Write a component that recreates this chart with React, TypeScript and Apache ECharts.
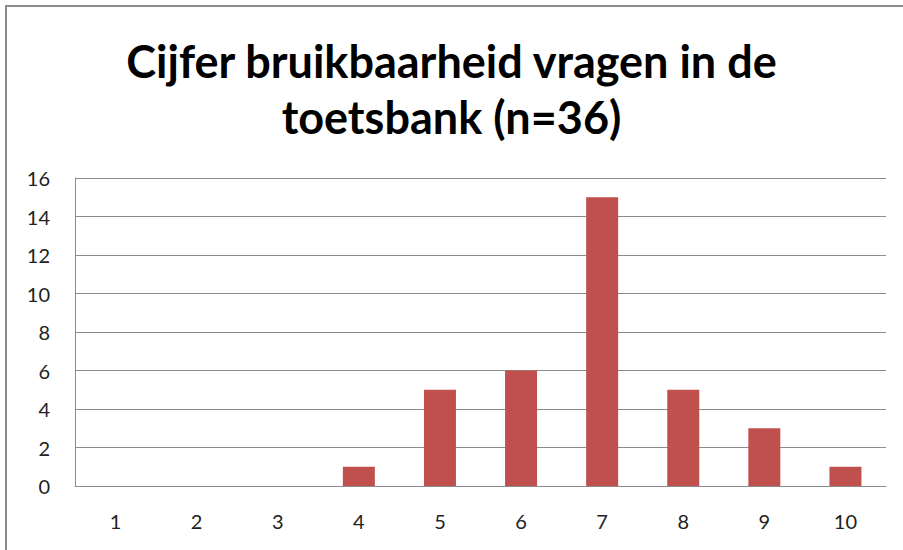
import React, { useEffect, useRef } from "react";
import * as echarts from "echarts";

const titleText = "Cijfer bruikbaarheid vragen in de\ntoetsbank (n=36)";
const categories = ["1", "2", "3", "4", "5", "6", "7", "8", "9", "10"];
const counts = [0, 0, 0, 1, 5, 6, 15, 5, 3, 1];
const yMin = 0;
const yMax = 16;
const yInterval = 2;

export default function App() {
  const ref = useRef<HTMLDivElement>(null);
  useEffect(() => {
    if (!ref.current) return;
    const chart = echarts.init(ref.current, undefined, { renderer: "svg" });
    chart.setOption({
      animation: false,
      backgroundColor: "#ffffff",
      graphic: [
        {
          type: "rect",
          shape: { x: 6, y: 6, width: 910, height: 560 },
          style: { fill: "none", stroke: "#8c8c8c", lineWidth: 2 },
          silent: true,
        },
      ],
      title: {
        text: titleText,
        left: "center",
        top: 28,
        textStyle: {
          fontFamily: "Lato",
          fontWeight: "bold",
          fontSize: 45,
          lineHeight: 56,
          color: "#000000",
        },
      },
      grid: { left: 75, right: 17, top: 178, bottom: 64, containLabel: false },
      xAxis: {
        type: "category",
        data: categories,
        axisLine: { show: true, lineStyle: { color: "#8c8c8c", width: 1 } },
        axisTick: { show: false },
        axisLabel: {
          color: "#222222",
          fontFamily: "Lato",
          fontSize: 20,
          margin: 25,
        },
      },
      yAxis: {
        type: "value",
        min: yMin,
        max: yMax,
        interval: yInterval,
        axisLine: { show: true, lineStyle: { color: "#8c8c8c", width: 1 } },
        axisTick: { show: false },
        splitLine: { show: true, lineStyle: { color: "#8c8c8c", width: 1 } },
        axisLabel: {
          color: "#222222",
          fontFamily: "Lato",
          fontSize: 20,
          margin: 25,
        },
      },
      series: [
        {
          type: "bar",
          data: counts,
          barWidth: 32,
          itemStyle: { color: "#C0504D" },
        },
      ],
    });
    return () => chart.dispose();
  }, []);
  return (
    <div
      ref={ref}
      style={{ position: "fixed", left: 0, top: 0, width: 903, height: 550 }}
    />
  );
}
